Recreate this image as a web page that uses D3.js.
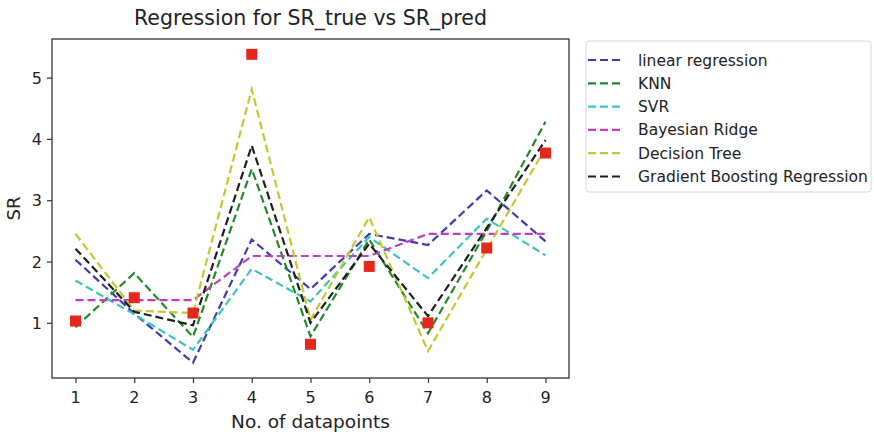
<!DOCTYPE html>
<html>
<head>
<meta charset="utf-8">
<script src="https://cdn.jsdelivr.net/npm/d3@7"></script>
<style>
  html, body { margin: 0; padding: 0; background: #fff; }
  svg { display: block; }
  text { font-family: "DejaVu Sans", sans-serif; fill: #222; }
</style>
</head>
<body>
<svg id="chart" width="874" height="438"></svg>
<script>
// ---- data ----
const datapoints = [1, 2, 3, 4, 5, 6, 7, 8, 9];
const xTicks = [1, 2, 3, 4, 5, 6, 7, 8, 9];
const yTicks = [1, 2, 3, 4, 5];
const srTrue = [1.03, 1.41, 1.16, 5.38, 0.65, 1.92, 1.00, 2.22, 3.77];
const linearRegression = [2.03, 1.15, 0.35, 2.36, 1.55, 2.45, 2.27, 3.16, 2.33];
const knn = [0.93, 1.81, 0.77, 3.51, 0.78, 2.36, 0.83, 2.50, 4.28];
const svr = [1.69, 1.14, 0.56, 1.88, 1.35, 2.40, 1.73, 2.70, 2.10];
const bayesianRidge = [1.37, 1.37, 1.37, 2.09, 2.09, 2.09, 2.45, 2.45, 2.45];
const decisionTree = [2.45, 1.20, 1.16, 4.81, 1.05, 2.72, 0.54, 2.20, 3.85];
const gradientBoosting = [2.21, 1.18, 0.96, 3.89, 1.00, 2.29, 1.11, 2.55, 3.98];
const seriesNames = ["linear regression", "KNN", "SVR", "Bayesian Ridge", "Decision Tree", "Gradient Boosting Regression"];
const seriesColors = ["#3c3cb0", "#1f8a2a", "#3fc2c2", "#c03ec0", "#c4c830", "#1e1e1e"];
const seriesValues = [linearRegression, knn, svr, bayesianRidge, decisionTree, gradientBoosting];

// ---- layout ----
const svg = d3.select("#chart");
const plot = { left: 52, right: 569, top: 39, bottom: 378 };
const x = d3.scaleLinear().domain([0.6, 9.4]).range([plot.left, plot.right]);
const y = d3.scaleLinear().domain([0.1, 5.63]).range([plot.bottom, plot.top]);

function label(g, tx, ty, str, size, anchor, rot, sx) {
  return g.append("text")
    .attr("transform", `translate(${tx},${ty})` + (rot ? ` rotate(${rot})` : "") + ` scale(${sx || 1},1)`)
    .attr("text-anchor", anchor)
    .style("font-size", size + "px")
    .text(str);
}

// frame
svg.append("rect")
  .attr("x", plot.left).attr("y", plot.top)
  .attr("width", plot.right - plot.left).attr("height", plot.bottom - plot.top)
  .attr("fill", "#fff").attr("stroke", "#333").attr("stroke-width", 1.3);

// axes
const xAxis = svg.append("g").attr("transform", `translate(0,${plot.bottom})`)
  .call(d3.axisBottom(x).tickValues(xTicks).tickSize(5).tickFormat(""));
const yAxis = svg.append("g").attr("transform", `translate(${plot.left},0)`)
  .call(d3.axisLeft(y).tickValues(yTicks).tickSize(5).tickFormat(""));
[xAxis, yAxis].forEach(a => {
  a.select(".domain").remove();
  a.selectAll(".tick line").attr("stroke", "#333").attr("stroke-width", 1.2);
});
xTicks.forEach(t => label(svg, x(t), plot.bottom + 25, String(t), 16, "middle"));
yTicks.forEach(t => label(svg, plot.left - 10, y(t) + 6, String(t), 16, "end"));

// titles
label(svg, (plot.left + plot.right) / 2, 25, "Regression for SR_true vs SR_pred", 20.5, "middle");
label(svg, (plot.left + plot.right) / 2, 428, "No. of datapoints", 18.5, "middle");
label(svg, 20, (plot.top + plot.bottom) / 2, "SR", 18, "middle", -90);

// lines
const line = d3.line().x((d, i) => x(datapoints[i])).y(d => y(d));
svg.append("clipPath").attr("id", "clip").append("rect")
  .attr("x", plot.left).attr("y", plot.top)
  .attr("width", plot.right - plot.left).attr("height", plot.bottom - plot.top);
const lg = svg.append("g").attr("clip-path", "url(#clip)");
seriesValues.forEach((vals, k) => {
  lg.append("path").datum(vals)
    .attr("d", line)
    .attr("fill", "none")
    .attr("stroke", seriesColors[k])
    .attr("stroke-width", 2.2)
    .attr("stroke-dasharray", "8,4");
});

// true markers
const ms = 11;
lg.selectAll("rect.mk").data(srTrue).enter().append("rect")
  .attr("class", "mk")
  .attr("x", (d, i) => x(datapoints[i]) - ms / 2)
  .attr("y", d => y(d) - ms / 2)
  .attr("width", ms).attr("height", ms)
  .attr("fill", "#e5281e");

// legend
const leg = svg.append("g");
leg.append("rect")
  .attr("x", 586).attr("y", 41).attr("width", 285).attr("height", 151)
  .attr("rx", 3).attr("fill", "#fff").attr("stroke", "#d8d8d8").attr("stroke-width", 1);
seriesNames.forEach((name, k) => {
  const ry = 60 + k * 23.3;
  leg.append("line")
    .attr("x1", 588).attr("x2", 624).attr("y1", ry).attr("y2", ry)
    .attr("stroke", seriesColors[k]).attr("stroke-width", 2.2)
    .attr("stroke-dasharray", "8,4");
  label(leg, 638, ry + 5.5, name, 15.5, "start");
});
</script>
</body>
</html>
